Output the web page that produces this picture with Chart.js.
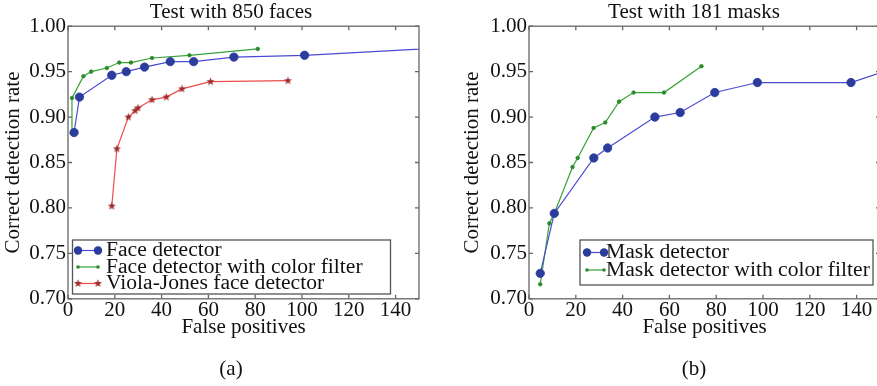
<!DOCTYPE html>
<html><head><meta charset="utf-8">
<script src="https://cdn.jsdelivr.net/npm/chart.js@4.4.0/dist/chart.umd.min.js"></script>
<style>
html,body{margin:0;padding:0;background:#fff;overflow:hidden;width:877px;height:386px;position:relative;}
canvas{position:absolute;top:0;}
#c1{left:0px}
#c2{left:455px}
</style></head><body>
<canvas id="c1" width="464" height="386"></canvas>
<canvas id="c2" width="480" height="386"></canvas>
<script>
// ---------- data ----------
const titleA = 'Test with 850 faces';
const titleB = 'Test with 181 masks';
const xTitle = 'False positives';
const yTitle = 'Correct detection rate';
const captionA = '(a)';
const captionB = '(b)';
const xTickValues = [0, 20, 40, 60, 80, 100, 120, 140];
const yTickValues = [0.70, 0.75, 0.80, 0.85, 0.90, 0.95, 1.00];

const faceLabel = 'Face detector';
const faceX = [2.6, 4.9, 18.7, 24.9, 32.7, 43.7, 53.7, 70.9, 101.1, 180];
const faceY = [0.883, 0.922, 0.946, 0.950, 0.955, 0.961, 0.961, 0.966, 0.968, 0.979];

const faceColorLabel = 'Face detector with color filter';
const faceColorX = [1.7, 1.7, 6.6, 9.9, 16.6, 21.9, 26.9, 35.9, 51.9, 81.1];
const faceColorY = [0.882, 0.921, 0.945, 0.950, 0.954, 0.960, 0.960, 0.965, 0.968, 0.975];

const violaLabel = 'Viola-Jones face detector';
const violaX = [18.7, 20.9, 25.8, 28.7, 29.9, 35.9, 42.0, 48.7, 60.9, 94.0];
const violaY = [0.802, 0.865, 0.900, 0.907, 0.910, 0.919, 0.922, 0.931, 0.939, 0.940];

const maskLabel = 'Mask detector';
const maskX = [4.8, 10.8, 27.7, 33.6, 53.8, 64.6, 79.4, 97.6, 137.6, 160];
const maskY = [0.728, 0.794, 0.855, 0.866, 0.900, 0.905, 0.927, 0.938, 0.938, 0.957];

const maskColorLabel = 'Mask detector with color filter';
const maskColorX = [4.8, 8.7, 10.8, 18.6, 20.8, 27.6, 32.6, 38.5, 44.7, 57.7, 73.7];
const maskColorY = [0.716, 0.783, 0.794, 0.845, 0.855, 0.888, 0.894, 0.917, 0.927, 0.927, 0.956];

// ---------- styling ----------
const FONT = "'Liberation Serif', 'Times New Roman', serif";
const TXT = '#111';
const BLUE_L = '#4a4ad2', BLUE_P = '#2b3c9c';
const GREEN_L = '#35a335', GREEN_P = '#2a8a2a';
const RED_L = '#f04a4a', RED_P = '#a02a2a';

function makeStar(color, r){
  const s = Math.ceil(r*2+2);
  const c = document.createElement('canvas'); c.width = s; c.height = s;
  const g = c.getContext('2d'); g.fillStyle = color; g.beginPath();
  for (let i=0;i<10;i++){
    const rr = i%2 ? r*0.42 : r;
    const a = -Math.PI/2 + i*Math.PI/5;
    const px = s/2 + rr*Math.cos(a), py = s/2 + rr*Math.sin(a);
    if (i) g.lineTo(px,py); else g.moveTo(px,py);
  }
  g.closePath(); g.fill();
  return c;
}
const starImg = makeStar(RED_P, 4.2);

function pts(xs, ys){ return xs.map((x,i)=>({x:x, y:ys[i]})); }

function ds(label, xs, ys, lineC, ptC, style, radius){
  return {label, data: pts(xs,ys), borderColor: lineC, backgroundColor: ptC,
    pointBackgroundColor: ptC, pointBorderColor: ptC, pointStyle: style,
    pointRadius: radius, pointBorderWidth: 0.8, borderWidth: 1.2, tension: 0,
    showLine: true, fill: false, pointHoverRadius: radius, yAxisID: 'y'};
}

const frameTicks = {
  id: 'frameTicks',
  afterDatasetsDraw(chart){
    const {ctx, chartArea: a, scales: {x, y}} = chart;
    ctx.save();
    ctx.strokeStyle = '#666'; ctx.lineWidth = 1.3;
    ctx.strokeRect(a.left, a.top, a.right-a.left, a.bottom-a.top);
    ctx.beginPath();
    x.ticks.forEach(t=>{ const p = x.getPixelForValue(t.value);
      ctx.moveTo(p, a.bottom); ctx.lineTo(p, a.bottom-4);
      ctx.moveTo(p, a.top); ctx.lineTo(p, a.top+4); });
    y.ticks.forEach(t=>{ const p = y.getPixelForValue(t.value);
      ctx.moveTo(a.left, p); ctx.lineTo(a.left+4, p);
      ctx.moveTo(a.right, p); ctx.lineTo(a.right-4, p); });
    ctx.stroke();
    ctx.restore();
  }
};

const boxLegend = {
  id: 'boxLegend',
  afterDraw(chart, args, o){
    const ctx = chart.ctx;
    ctx.save();
    ctx.fillStyle = '#fff'; ctx.fillRect(o.x0, o.y0, o.x1-o.x0, o.y1-o.y0);
    ctx.strokeStyle = '#555'; ctx.lineWidth = 1.3;
    ctx.strokeRect(o.x0, o.y0, o.x1-o.x0, o.y1-o.y0);
    chart.data.datasets.forEach((d, i)=>{
      const yy = o.rows[i];
      ctx.strokeStyle = d.borderColor; ctx.lineWidth = d.borderWidth;
      ctx.beginPath(); ctx.moveTo(o.s0, yy); ctx.lineTo(o.s1, yy); ctx.stroke();
      [o.s0, o.s1].forEach(px=>{
        if (d.pointStyle === 'circle'){
          ctx.fillStyle = d.pointBackgroundColor; ctx.beginPath();
          ctx.arc(px, yy, d.pointRadius, 0, Math.PI*2); ctx.fill();
        } else {
          ctx.drawImage(d.pointStyle, px - d.pointStyle.width/2, yy - d.pointStyle.height/2);
        }
      });
      ctx.fillStyle = TXT; ctx.font = '21.6px ' + FONT;
      ctx.textAlign = 'left'; ctx.textBaseline = 'middle';
      ctx.fillText(d.label, o.tx, yy);
    });
    ctx.restore();
  }
};

function makeOptions(title, caption, yWidth, yTitlePad, rightBox, legend){
  return {
    responsive: false, animation: false, devicePixelRatio: 1,
    layout: {padding: {left: 0, right: 2, top: 0, bottom: 0}},
    events: [],
    plugins: {
      legend: {display: false},
      tooltip: {enabled: false},
      title: {display: true, text: title, color: TXT, font: {family: FONT, size: 21, weight: 'normal'}, padding: {top: 0, bottom: 1}},
      subtitle: {display: true, text: caption, position: 'bottom', color: TXT, font: {family: FONT, size: 21, weight: 'normal'}, padding: {top: 16, bottom: 4}},
      boxLegend: legend
    },
    scales: {
      x: {type: 'linear', min: 0, max: 150,
        grid: {display: false, drawTicks: false}, border: {display: false},
        afterFit(s){ s.height = 42; },
        afterBuildTicks(s){ s.ticks = xTickValues.map(v=>({value: v})); },
        ticks: {color: TXT, font: {family: FONT, size: 21}, padding: -1, maxRotation: 0, autoSkip: false,
          callback: v => String(v)},
        title: {display: true, text: xTitle, color: TXT, font: {family: FONT, size: 21}, padding: {top: 0, bottom: 1}}
      },
      y: {type: 'linear', position: 'left', min: 0.70, max: 1.00,
        grid: {display: false, drawTicks: false}, border: {display: false},
        afterFit(s){ s.width = yWidth; },
        afterBuildTicks(s){ s.ticks = yTickValues.map(v=>({value: v})); },
        ticks: {color: TXT, font: {family: FONT, size: 21}, padding: 2, autoSkip: false,
          callback: v => Number(v).toFixed(2)},
        title: {display: true, text: yTitle, color: TXT, font: {family: FONT, size: 21}, padding: {top: yTitlePad, bottom: 0}}
      },
      yPad: {type: 'linear', position: 'right', min: 0.70, max: 1.00, display: true,
        grid: {display: false, drawTicks: false}, border: {display: false},
        ticks: {display: false},
        afterFit(s){ s.width = rightBox; }
      }
    }
  };
}

new Chart(document.getElementById('c1'), {
  type: 'line',
  data: {datasets: [
    ds(faceLabel, faceX, faceY, BLUE_L, BLUE_P, 'circle', 4.2),
    ds(faceColorLabel, faceColorX, faceColorY, GREEN_L, GREEN_P, 'circle', 1.8),
    ds(violaLabel, violaX, violaY, RED_L, RED_P, starImg, 4)
  ]},
  options: makeOptions(titleA, captionA, 68, 1, 43,
    {x0: 72.5, y0: 240, x1: 390.5, y1: 294, s0: 78, s1: 98, tx: 106, rows: [250.5, 267, 283.5]}),
  plugins: [frameTicks, boxLegend]
});

new Chart(document.getElementById('c2'), {
  type: 'line',
  data: {datasets: [
    ds(maskLabel, maskX, maskY, BLUE_L, BLUE_P, 'circle', 4.2),
    ds(maskColorLabel, maskColorX, maskColorY, GREEN_L, GREEN_P, 'circle', 1.8)
  ]},
  options: makeOptions(titleB, captionB, 74, 5, 53,
    {x0: 125, y0: 240, x1: 418, y1: 285, s0: 132, s1: 149, tx: 151, rows: [252.5, 270]}),
  plugins: [frameTicks, boxLegend]
});
</script>
</body></html>
